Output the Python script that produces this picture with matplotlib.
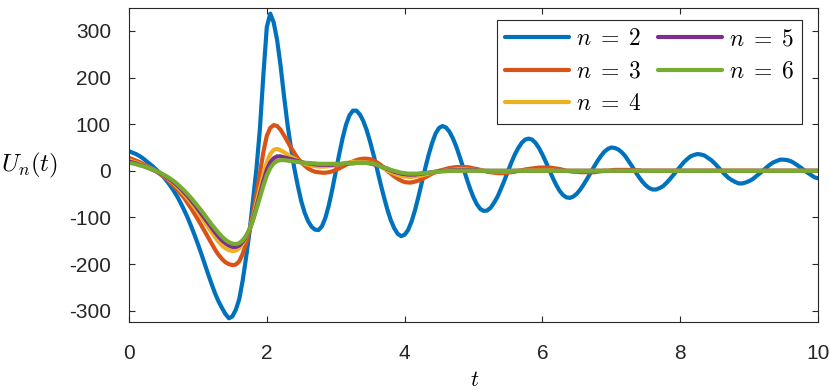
import numpy as np
import matplotlib.pyplot as plt

plt.rcParams['font.family'] = ['Liberation Sans', 'DejaVu Sans']
plt.rcParams['mathtext.fontset'] = 'cm'
plt.rcParams['axes.unicode_minus'] = False

# sample times, every 0.05
t = np.linspace(0, 10, 201)

# values, ten per row (0.5 time units per row)
u2 = [42, 39, 36, 32, 27, 21, 15, 9, 2, -5,
      -13, -22, -32, -43, -55, -69, -84, -100, -118, -137,
      -157, -178, -200, -222, -243, -263, -280, -294, -307, -316,
      -312, -298, -275, -235, -185, -130, -62, 5, 90, 205,
      308, 337, 318, 280, 225, 160, 100, 50, 5, -32,
      -65, -90, -108, -120, -126, -127, -119, -101, -74, -40,
      -2, 35, 70, 99, 119, 129, 129, 121, 107, 87,
      62, 34, 4, -27, -56, -83, -106, -123, -135, -140,
      -137, -127, -109, -85, -56, -25, 6, 35, 60, 80,
      92, 96, 93, 84, 70, 52, 30, 7, -16, -38,
      -57, -72, -82, -86, -85, -79, -68, -55, -38, -20,
      -1, 18, 35, 49, 60, 67, 69, 67, 60, 49,
      35, 19, 2, -15, -30, -43, -52, -57, -58, -55,
      -49, -40, -29, -17, -4, 9, 21, 32, 41, 47,
      50, 49, 46, 40, 32, 21, 10, -2, -13, -23,
      -31, -37, -40, -40, -37, -33, -26, -18, -9, 0,
      9, 18, 25, 31, 34, 36, 35, 33, 28, 23,
      16, 8, 0, -8, -15, -20, -24, -27, -27, -25,
      -22, -18, -12, -6, 0, 7, 13, 18, 21, 24,
      24, 23, 21, 17, 12, 7, 1, -4, -9, -14,
      -16]

u3 = [28, 25, 22, 19, 15, 11, 7, 3, -2, -7,
      -12, -18, -25, -32, -40, -49, -58, -69, -80, -92,
      -104, -117, -130, -143, -156, -169, -180, -189, -196, -200,
      -202, -201, -194, -178, -155, -128, -92, -50, -5, 40,
      75, 92, 98, 96, 88, 76, 63, 50, 38, 27,
      18, 11, 5, 1, -2, -3, -4, -4, -3, -1,
      2, 5, 9, 13, 17, 20, 23, 25, 26, 26,
      25, 22, 18, 13, 7, 0, -6, -12, -17, -21,
      -24, -25, -25, -23, -21, -18, -14, -10, -6, -3,
      0, 2, 4, 6, 7, 8, 8, 8, 8, 7,
      5, 4, 2, 0, -2, -3, -4, -5, -5, -5,
      -4, -3, -2, 0, 1, 3, 4, 5, 6, 7,
      7, 7, 7, 6, 5, 4, 2, 0, -1, -2,
      -2, -3, -3, -3, -3, -3, -2, -1, 0, 0,
      1, 2, 2, 2, 2, 2, 2, 1, 1, 0] + [0] * 51

u4 = [23, 20, 18, 15, 12, 9, 6, 3, -1, -5,
      -10, -15, -21, -27, -34, -42, -50, -59, -68, -78,
      -88, -99, -110, -121, -132, -142, -152, -160, -166, -170,
      -172, -171, -166, -156, -142, -125, -100, -70, -38, -8,
      18, 36, 45, 47, 44, 40, 35, 30, 26, 22,
      18, 15, 13, 11, 10, 9, 9, 9, 10, 11,
      12, 13, 15, 17, 18, 19, 19, 19, 19, 18,
      17, 15, 12, 9, 5, 1, -3, -6, -9, -11,
      -12, -13, -13, -12, -11, -10, -8, -6, -4, -2,
      -1, 0, 1, 2, 2, 3, 3, 3, 3, 2,
      2, 1, 1, 0, 0, -1, -1, -1, -1, -1,
      -1, -1, 0, 0, 0, 1, 1, 1, 1, 1,
      1, 1, 1, 1, 0, 0, 0, 0, 0, 0] + [0] * 71

u5 = [20, 18, 16, 13, 11, 8, 5, 2, -1, -5,
      -9, -14, -19, -25, -31, -38, -46, -54, -63, -72,
      -82, -92, -102, -112, -122, -132, -141, -149, -155, -160,
      -163, -163, -160, -152, -141, -126, -104, -78, -50, -22,
      2, 18, 27, 31, 31, 29, 27, 25, 23, 21,
      19, 17, 16, 15, 14, 13, 13, 13, 13, 13,
      14, 14, 15, 15, 16, 16, 17, 17, 17, 17,
      16, 14, 12, 10, 7, 4, 1, -2, -4, -6,
      -7, -8, -8, -8, -7, -6, -5, -4, -3, -2,
      -1, 0, 0, 1, 1, 1, 1, 1, 1, 1,
      1, 1, 0, 0, 0, 0, 0, 0, 0, 0] + [0] * 91

u6 = [17, 16, 14, 12, 10, 8, 5, 2, -1, -4,
      -8, -12, -17, -22, -28, -35, -42, -50, -58, -67,
      -76, -85, -95, -105, -115, -124, -133, -141, -148, -153,
      -156, -157, -155, -149, -139, -125, -106, -82, -57, -32,
      -10, 6, 16, 21, 23, 23, 22, 21, 20, 19,
      18, 17, 17, 16, 16, 15, 15, 15, 15, 15,
      15, 15, 15, 16, 16, 17, 17, 17, 17, 17,
      16, 15, 13, 10, 7, 5, 2, 0, -2, -4,
      -5, -6, -6, -6, -6, -5, -5, -4, -3, -2,
      -2, -1, -1, 0, 0, 0, 0, 0, 0, 0] + [0] * 101

labels = [r'$n\;=\;2$', r'$n\;=\;3$', r'$n\;=\;4$', r'$n\;=\;5$', r'$n\;=\;6$']
colors = ['#0072BD', '#D95319', '#EDB120', '#7E2F8E', '#77AC30']

fig = plt.figure(figsize=(8.3, 3.9), dpi=100)
ax = fig.add_axes([129 / 830, 1 - 322 / 390, 689 / 830, 314 / 390])

for u, lab, c in zip([u2, u3, u4, u5, u6], labels, colors):
    ax.plot(t, u, color=c, lw=3.0, label=lab, solid_capstyle='round')

ax.set_xlim(0, 10)
ax.set_ylim(-324, 349)
ax.set_xticks([0, 2, 4, 6, 8, 10])
ax.set_yticks([-300, -200, -100, 0, 100, 200, 300])

dark = '#262626'
for s in ax.spines.values():
    s.set_color(dark)
    s.set_linewidth(0.8)
ax.tick_params(direction='in', top=True, right=True, length=4.5, width=0.8,
               color=dark, labelcolor=dark, labelsize=15)
ax.tick_params(axis='x', pad=16)
ax.tick_params(axis='y', pad=13)

ax.set_xlabel('$t$', fontsize=16)
ax.xaxis.set_label_coords(0.502, -0.153)
ax.set_ylabel('$U_n(t)$', fontsize=18, rotation=0, ha='right', va='center')
ax.yaxis.set_label_coords(-0.103, 0.5)

leg = ax.legend(ncol=2, loc='upper right', bbox_to_anchor=(0.977, 0.962),
                borderaxespad=0, fontsize=17, handlelength=2.7, handletextpad=0.3,
                columnspacing=0.72, labelspacing=0.45, borderpad=0.35,
                fancybox=False, framealpha=1)
leg.get_frame().set_edgecolor(dark)
leg.get_frame().set_linewidth(0.8)

fig.savefig('out.png', dpi=100)
